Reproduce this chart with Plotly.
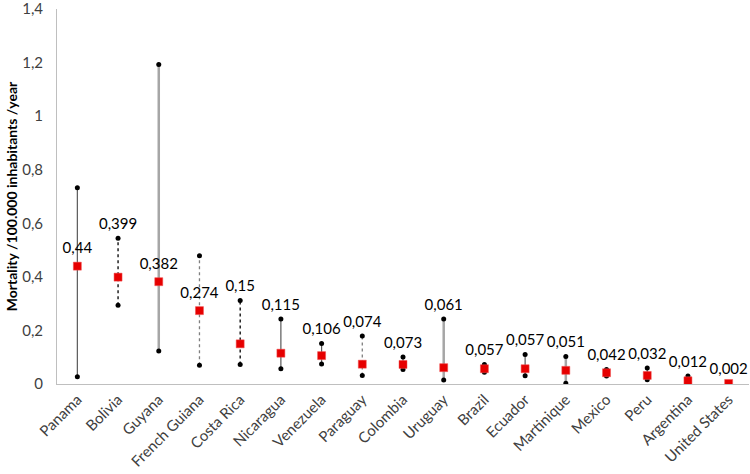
import plotly.graph_objects as go

countries = ["Panama", "Bolivia", "Guyana", "French Guiana", "Costa Rica", "Nicaragua",
             "Venezuela", "Paraguay", "Colombia", "Uruguay", "Brazil", "Ecuador",
             "Martinique", "Mexico", "Peru", "Argentina", "United States"]
mean_vals = [0.44, 0.399, 0.382, 0.274, 0.15, 0.115, 0.106, 0.074, 0.073, 0.061,
             0.057, 0.057, 0.051, 0.042, 0.032, 0.012, 0.002]
high_vals = [0.733, 0.544, 1.193, 0.479, 0.312, 0.243, 0.151, 0.179, 0.101, 0.243,
             0.073, 0.110, 0.103, 0.054, 0.060, 0.030, 0.003]
low_vals = [0.027, 0.294, 0.123, 0.070, 0.073, 0.057, 0.075, 0.032, 0.054, 0.015,
            0.044, 0.031, 0.003, 0.030, 0.016, 0.005, 0.001]
range_style = ["dark", "dotblack", "light", "dotgray", "dotblack", "dark", "dark",
               "dotgray", "dark", "light", "dark", "dark", "light", "dark", "dark",
               "dark", "dark"]
label_anchor = ["mean", "high", "mean", "mean", "high", "high", "high", "high", "high",
                "high", "high", "high", "high", "high", "high", "high", "high"]
y_ticks = [0, 0.2, 0.4, 0.6, 0.8, 1.0, 1.2, 1.4]
y_tick_text = ["0", "0,2", "0,4", "0,6", "0,8", "1", "1,2", "1,4"]

styles = {
    "dark": dict(color="#595959", width=1.2, dash="solid"),
    "dotblack": dict(color="#000000", width=1.3, dash="dot"),
    "light": dict(color="#a6a6a6", width=2.5, dash="solid"),
    "dotgray": dict(color="#7f7f7f", width=1.3, dash="dot"),
}

fig = go.Figure()
for sname, sline in styles.items():
    xs, ys = [], []
    for c, lo, hi, st in zip(countries, low_vals, high_vals, range_style):
        if st == sname:
            xs += [c, c, None]
            ys += [lo, hi, None]
    fig.add_trace(go.Scatter(x=xs, y=ys, mode="lines", line=sline,
                             hoverinfo="skip", showlegend=False))

fig.add_trace(go.Scatter(x=countries, y=high_vals, mode="markers",
                         marker=dict(color="black", size=5), showlegend=False))
fig.add_trace(go.Scatter(x=countries, y=low_vals, mode="markers",
                         marker=dict(color="black", size=5), showlegend=False))
fig.add_trace(go.Scatter(x=countries, y=mean_vals, mode="markers",
                         marker=dict(color="#e60000", size=8, symbol="square",
                                     line=dict(color="#f05050", width=0.5)),
                         showlegend=False))

lab_y = [m if a == "mean" else h for m, h, a in zip(mean_vals, high_vals, label_anchor)]
lab_size = [13 if a == "mean" else 7 for a in label_anchor]
lab_text = [str(v).replace(".", ",") for v in mean_vals]
fig.add_trace(go.Scatter(x=countries, y=lab_y, mode="markers+text", text=lab_text,
                         textposition="top center",
                         marker=dict(size=lab_size, opacity=0),
                         textfont=dict(family="Lato", size=15, color="#000000"),
                         showlegend=False, hoverinfo="skip"))

fig.update_layout(
    width=750, height=474,
    margin=dict(l=57, r=1, t=9, b=90),
    plot_bgcolor="white", paper_bgcolor="white",
    font=dict(family="Lato", size=15, color="#000000"),
)
fig.update_xaxes(type="category", categoryorder="array", categoryarray=countries,
                 range=[-0.5, 16.5], tickangle=-45, automargin=False,
                 showline=True, linecolor="#bfbfbf", linewidth=1,
                 showgrid=False, ticks="", tickfont=dict(size=15, color="#404040"))
fig.update_yaxes(range=[0, 1.4001], showgrid=False, zeroline=False, automargin=False,
                 showline=True, linecolor="#bfbfbf", linewidth=1, ticks="",
                 tickvals=y_ticks, ticktext=y_tick_text, ticklabeloverflow="allow",
                 ticklabelstandoff=10,
                 tickfont=dict(size=15, color="#404040"),
                 title=dict(text="<b>Mortality /100.000 inhabitants /year</b>",
                            font=dict(size=14, color="#000000"), standoff=1))

fig.write_html("out.html", config={"displayModeBar": False},
               post_script="document.body.style.margin='0';document.body.style.padding='0';")
